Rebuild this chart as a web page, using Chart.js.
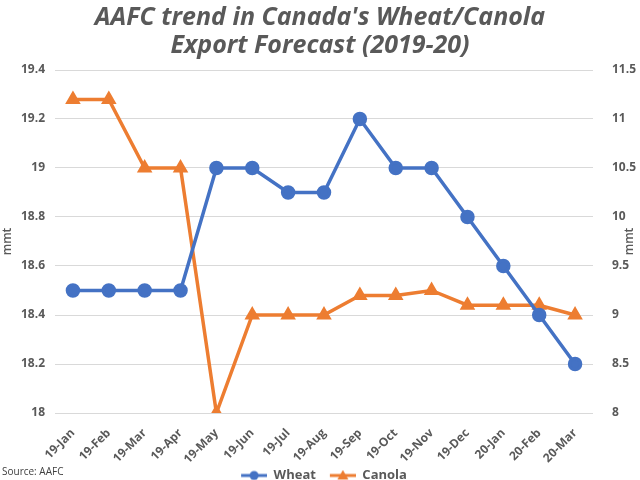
<!DOCTYPE html>
<html><head><meta charset="utf-8">
<script src="https://cdn.jsdelivr.net/npm/chart.js@4"></script>
<style>html,body{margin:0;padding:0;background:#fff}#wrap{width:640px;height:480px}</style>
</head><body><div id="wrap"><canvas id="c"></canvas></div>
<script>
const categories = ["19-Jan","19-Feb","19-Mar","19-Apr","19-May","19-Jun","19-Jul","19-Aug","19-Sep","19-Oct","19-Nov","19-Dec","20-Jan","20-Feb","20-Mar"];
const wheat = [18.5,18.5,18.5,18.5,19,19,18.9,18.9,19.2,19,19,18.8,18.6,18.4,18.2];
const canola = [11.2,11.2,10.5,10.5,8,9,9,9,9.2,9.2,9.25,9.1,9.1,9.1,9.0];
const leftTicks = [18,18.2,18.4,18.6,18.8,19,19.2,19.4];
const rightTicks = [8,8.5,9,9.5,10,10.5,11,11.5];

const BLUE = '#4472C4', ORANGE = '#ED7D31', GREY = '#595959';
const FONT = "'Open Sans', sans-serif";
const ICON_MARGIN = 8;

function legendIcon(color, style){
  const c = document.createElement('canvas');
  c.width = 26 + ICON_MARGIN; c.height = 12;
  const x = c.getContext('2d');
  const o = ICON_MARGIN;
  x.strokeStyle = color; x.lineWidth = 3;
  x.beginPath(); x.moveTo(o,6); x.lineTo(o+26,6); x.stroke();
  x.fillStyle = color;
  if(style==='circle'){ x.beginPath(); x.arc(o+13,6,4.5,0,Math.PI*2); x.fill(); }
  else { x.beginPath(); x.moveTo(o+13,0.5); x.lineTo(o+18.5,10); x.lineTo(o+7.5,10); x.closePath(); x.fill(); }
  return c;
}
const icons = [legendIcon(BLUE,'circle'), legendIcon(ORANGE,'triangle')];

const extras = {
  id:'extras',
  afterDraw(chart){
    const ctx = chart.ctx;
    ctx.save();
    ctx.fillStyle = GREY;
    ctx.font = "600 12px " + FONT;
    ctx.textAlign = 'center'; ctx.textBaseline = 'middle';
    const cy = (chart.chartArea.top + chart.chartArea.bottom)/2;
    ctx.translate(630, cy); ctx.rotate(-Math.PI/2);
    ctx.fillText('mmt', 0, 0);
    ctx.restore();
    ctx.save();
    ctx.fillStyle = '#404040';
    ctx.font = "10px " + FONT;
    ctx.textAlign = 'left'; ctx.textBaseline = 'middle';
    ctx.fillText('Source: AAFC', 2, 472);
    ctx.restore();
  }
};

new Chart(document.getElementById('c'), {
  type:'line',
  data:{
    labels: categories,
    datasets:[
      {label:'Wheat', data:wheat, yAxisID:'y', borderColor:BLUE, backgroundColor:BLUE, borderWidth:3.5, pointStyle:'circle', pointRadius:5.5, pointHoverRadius:5.5, tension:0},
      {label:'Canola', data:canola, yAxisID:'y2', borderColor:ORANGE, backgroundColor:ORANGE, borderWidth:3.5, pointStyle:'triangle', pointRadius:5.5, pointHoverRadius:5.5, tension:0}
    ]
  },
  options:{
    responsive:true, maintainAspectRatio:false, animation:false,
    layout:{padding:{left:0,right:0,top:0,bottom:-12}},
    plugins:{
      title:{display:true, text:["AAFC trend in Canada's Wheat/Canola","Export Forecast (2019-20)"], color:GREY,
        font:{family:FONT, size:25, weight:'bold', style:'italic', lineHeight:1.12}, padding:{top:4,bottom:10}},
      legend:{position:'bottom', labels:{color:GREY, font:{family:FONT,size:13,weight:'bold'}, usePointStyle:true, pointStyleWidth:26+ICON_MARGIN, boxHeight:12, padding:6,
        generateLabels(chart){ return chart.data.datasets.map((d,i)=>({text:d.label, pointStyle:icons[i], fillStyle:d.borderColor, strokeStyle:d.borderColor, lineWidth:0, datasetIndex:i, fontColor:GREY})); }}},
      tooltip:{enabled:false}
    },
    scales:{
      x:{offset:true, grid:{display:false}, border:{display:false},
        ticks:{color:GREY, font:{family:FONT,size:12,weight:'bold'}, maxRotation:45, minRotation:45, autoSkip:false, padding:5},
        afterFit(s){ s.height = 50; }},
      y:{position:'left', min:18, max:19.4, afterBuildTicks(s){ s.ticks = leftTicks.map(v=>({value:v})); },
        grid:{color:'#d9d9d9', lineWidth:1, drawTicks:false}, border:{display:false},
        ticks:{color:GREY, font:{family:FONT,size:12,weight:'bold'}, padding:10, callback:v=>String(v)},
        title:{display:true, text:'mmt', color:GREY, font:{family:FONT,size:12,weight:'600'}, padding:0},
        afterFit(s){ s.width = 55; }},
      y2:{position:'right', min:8, max:11.5, afterBuildTicks(s){ s.ticks = rightTicks.map(v=>({value:v})); },
        grid:{display:false}, border:{display:false},
        ticks:{color:GREY, font:{family:FONT,size:12,weight:'bold'}, padding:11, callback:v=>String(v)},
        afterFit(s){ s.width = 47; }}
    }
  },
  plugins:[extras]
});
</script></body></html>
